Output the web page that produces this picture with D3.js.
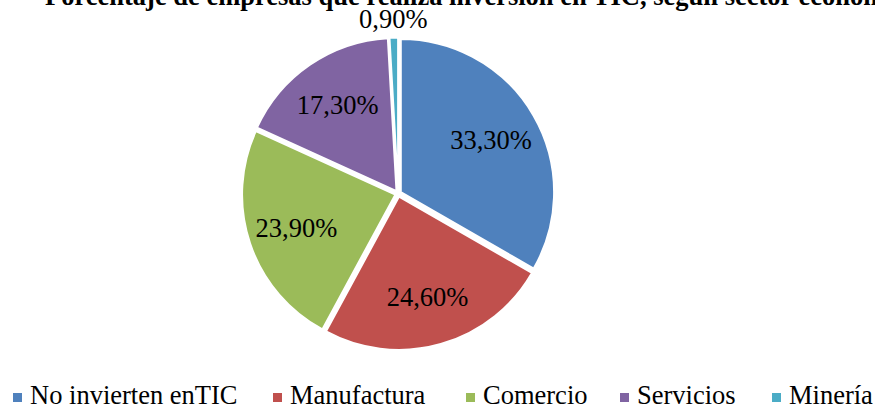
<!DOCTYPE html>
<html>
<head>
<meta charset="utf-8">
<script src="https://cdn.jsdelivr.net/npm/d3@7"></script>
</head>
<body style="margin:0;padding:0;background:#fff;overflow:hidden">
<svg id="chart" width="875" height="407" style="display:block"></svg>
<script>
const title = "Porcentaje de empresas que realiza inversión en TIC, según sector económico";
const categories = ["No invierten enTIC", "Manufactura", "Comercio", "Servicios", "Minería"];
const values = [33.3, 24.6, 23.9, 17.3, 0.9];
const valueLabels = ["33,30%", "24,60%", "23,90%", "17,30%", "0,90%"];
const colors = ["#4F81BD", "#C0504D", "#9BBB59", "#8064A2", "#4BACC6"];

const FONT = "'Liberation Serif', 'Times New Roman', Times, serif";
const FS = 26.5;
const svg = d3.select("#chart");
const cx = 398.2, cy = 193.7, r = 153.3, explode = 3;

svg.append("text")
  .attr("x", 45).attr("y", 5)
  .style("font-family", FONT)
  .style("font-size", FS + "px").style("font-weight", "bold")
  .attr("fill", "#000")
  .text(title);

const data = categories.map((c, i) => ({ cat: c, value: values[i], label: valueLabels[i], color: colors[i] }));
const pie = d3.pie().sort(null).value(d => d.value);
const arcs = pie(data);
const arc = d3.arc().innerRadius(0).outerRadius(r);
const labelArc = d3.arc().innerRadius(r * 0.7).outerRadius(r * 0.7);
const outArc = d3.arc().innerRadius(r + 22).outerRadius(r + 22);

const g = svg.append("g").attr("transform", `translate(${cx},${cy})`);

g.selectAll("path.slice").data(arcs).enter().append("path")
  .attr("class", "slice")
  .attr("d", arc)
  .attr("fill", d => d.data.color)
  .attr("stroke", "#fff").attr("stroke-width", 2)
  .attr("transform", d => {
    const a = (d.startAngle + d.endAngle) / 2;
    return `translate(${explode * Math.sin(a)},${-explode * Math.cos(a)})`;
  });

g.selectAll("text.lbl").data(arcs).enter().append("text")
  .attr("class", "lbl")
  .attr("transform", d => {
    const p = (d.endAngle - d.startAngle) < 0.2 ? outArc.centroid(d) : labelArc.centroid(d);
    return `translate(${p[0]},${p[1]})`;
  })
  .attr("text-anchor", "middle")
  .attr("dy", "0.35em")
  .style("font-family", FONT)
  .style("font-size", FS + "px")
  .attr("fill", "#000")
  .text(d => d.data.label);

// Legend
const legend = svg.append("g");
const legendX = [13, 273, 466, 620, 772];
const items = legend.selectAll("g.item").data(data).enter().append("g")
  .attr("class", "item")
  .attr("transform", (d, i) => `translate(${legendX[i]},0)`);
items.append("rect")
  .attr("x", 0).attr("y", 393).attr("width", 9).attr("height", 9)
  .attr("fill", d => d.color);
items.append("text")
  .attr("x", 17).attr("y", 404)
  .style("font-family", FONT)
  .style("font-size", FS + "px")
  .attr("fill", "#000")
  .text(d => d.cat);
</script>
</body>
</html>
